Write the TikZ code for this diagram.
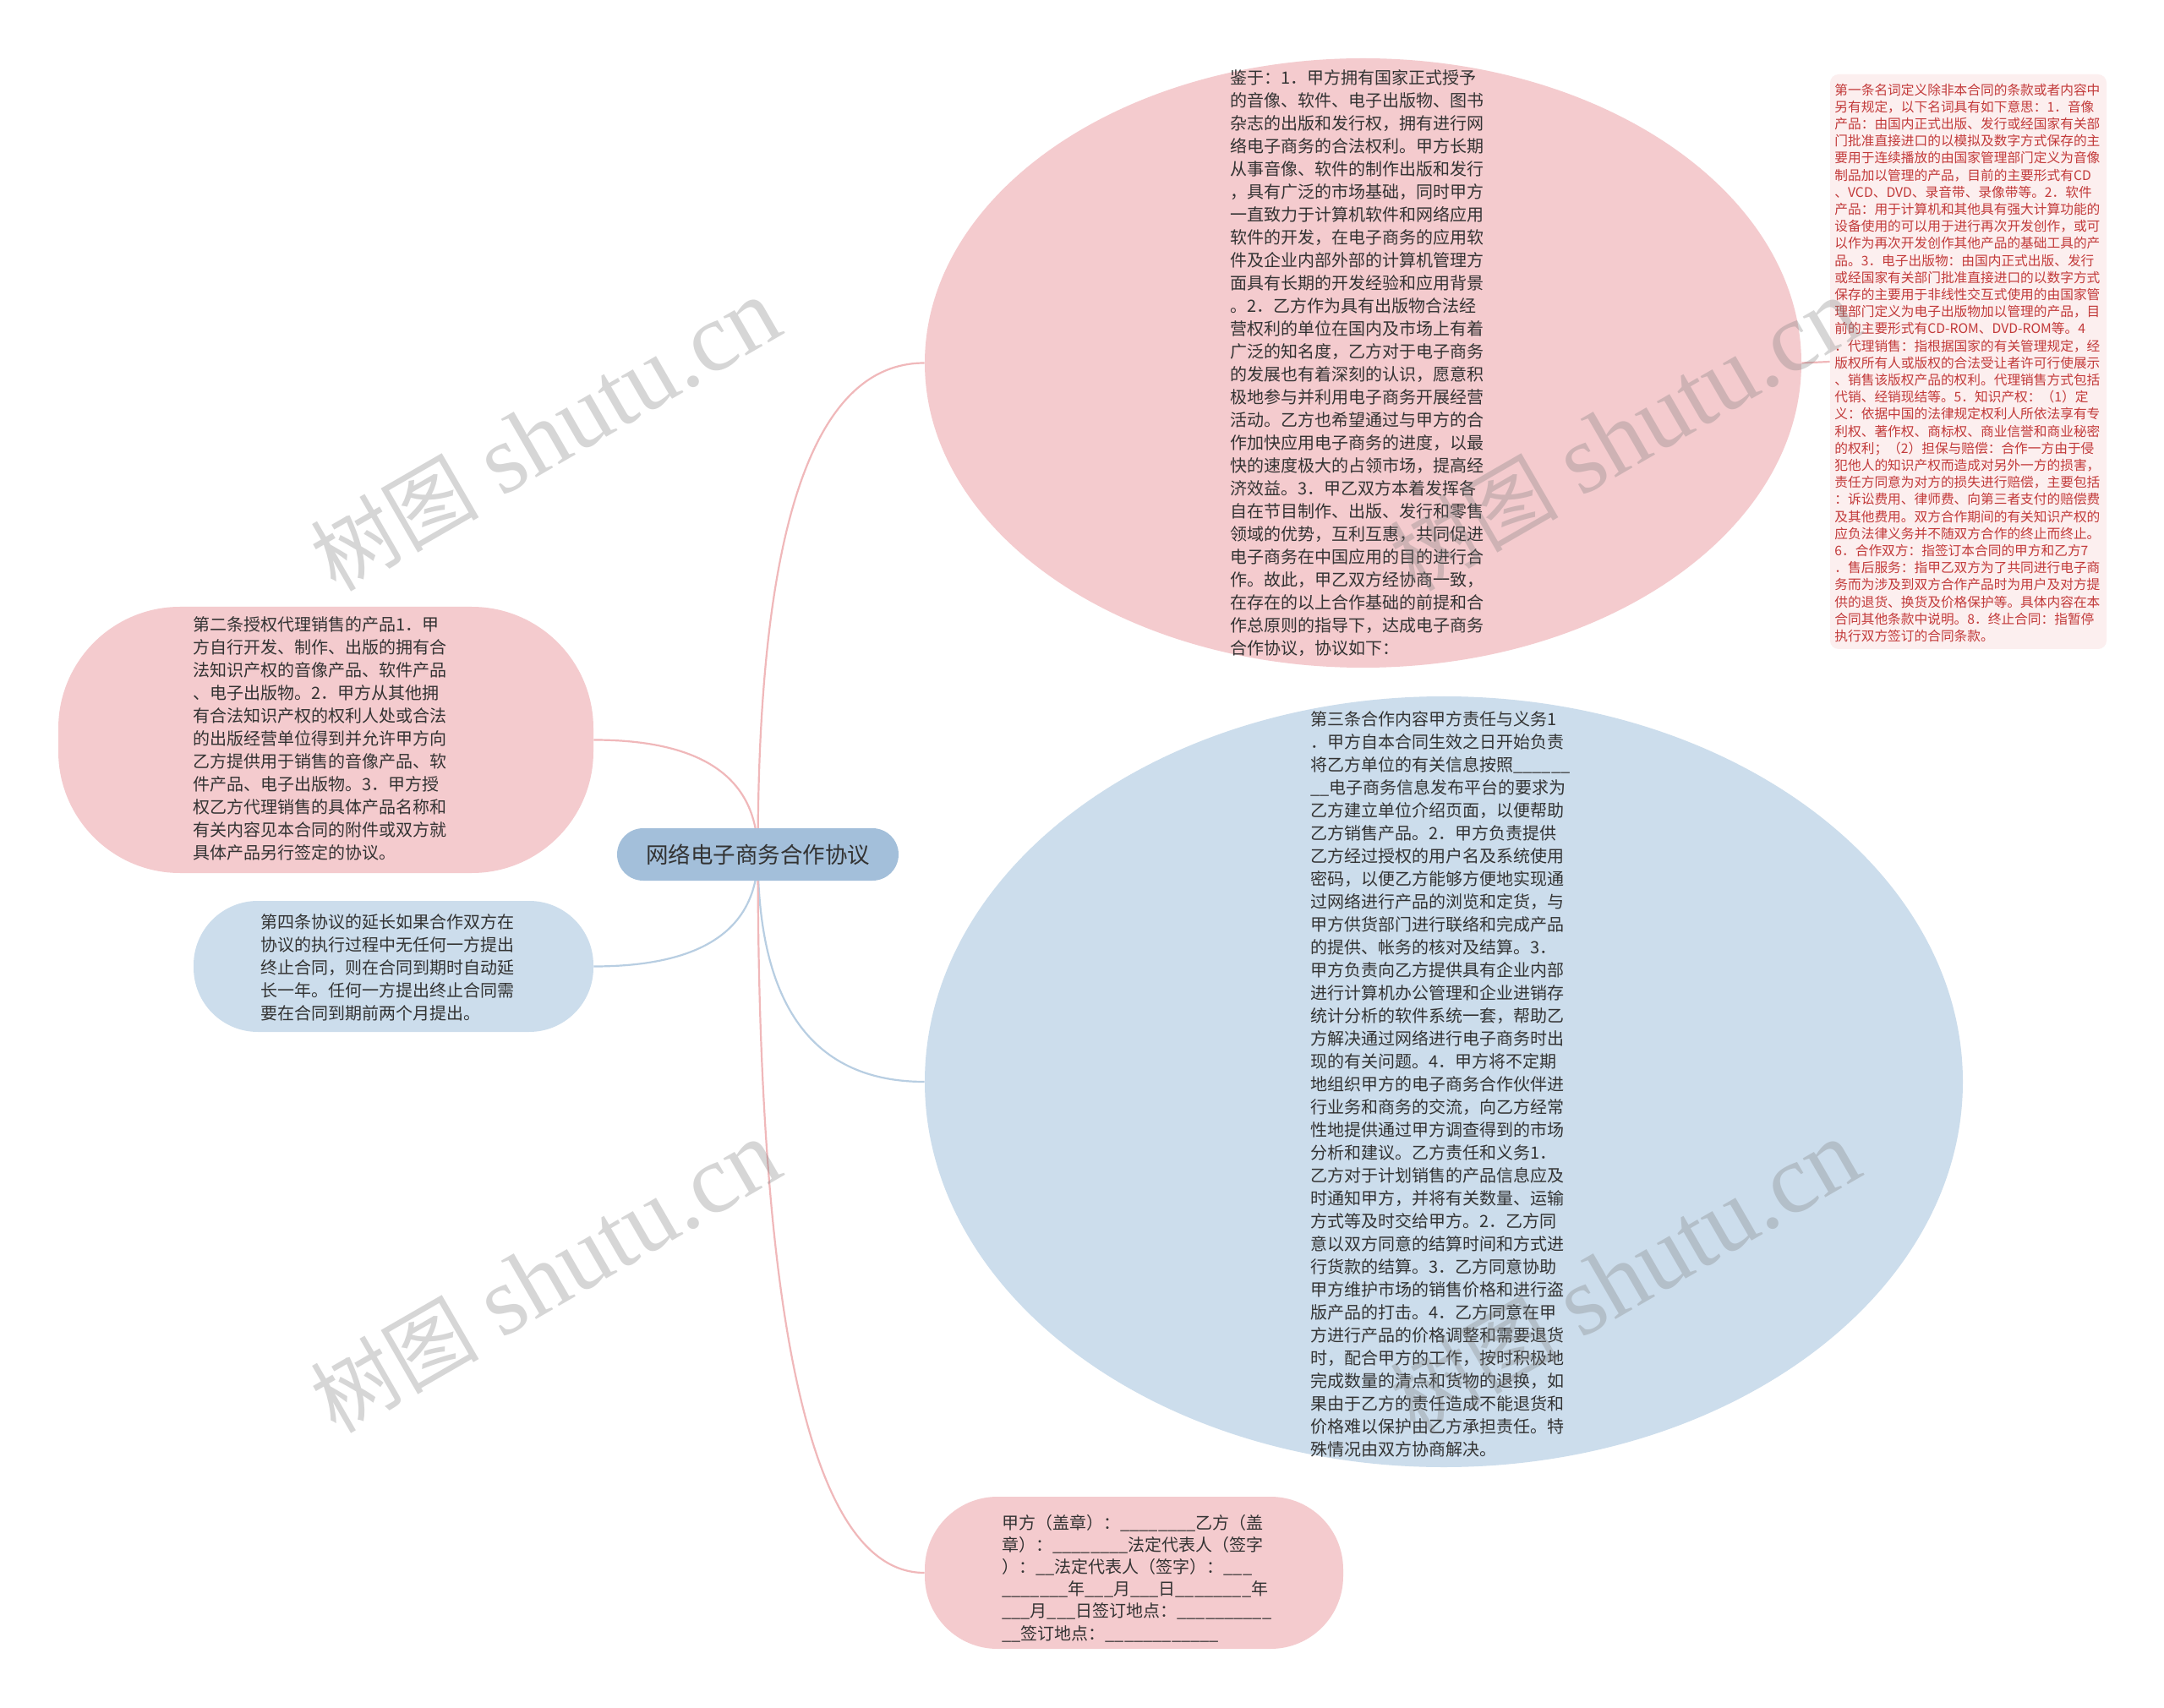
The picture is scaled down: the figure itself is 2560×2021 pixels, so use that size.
\documentclass[tikz,border=0pt]{standalone}
\usepackage{fontspec}
\setmainfont{Noto Sans CJK SC}
\newfontfamily\wmserif{Liberation Serif}
\usetikzlibrary{shapes.geometric,backgrounds,calc}
\definecolor{pinkfill}{HTML}{F4CBCE}
\definecolor{bluefill}{HTML}{CCDDEC}
\definecolor{rootfill}{HTML}{A3BFDA}
\definecolor{boxfill}{HTML}{FCEFEF}
\definecolor{boxtext}{HTML}{C23A3A}
\definecolor{pinkline}{HTML}{F0B8BA}
\definecolor{blueline}{HTML}{B8CEE2}
\definecolor{darktext}{HTML}{333333}
\tikzset{
  bodytext/.style={font=\fontsize{10pt}{13.5pt}\selectfont, align=left, text=darktext, inner sep=0pt, anchor=west},
  smalltext/.style={font=\fontsize{7.85pt}{10.1pt}\selectfont, align=left, text=boxtext, inner sep=0pt, anchor=west},
  ellpink/.style={ellipse, fill=pinkfill, draw=none, inner sep=0pt},
  ellblue/.style={ellipse, fill=bluefill, draw=none, inner sep=0pt},
  pillpink/.style={rectangle, fill=pinkfill, draw=none, inner sep=0pt},
  pillblue/.style={rectangle, fill=bluefill, draw=none, inner sep=0pt},
  pinkconn/.style={draw=pinkline, line width=1.1pt},
  blueconn/.style={draw=blueline, line width=1.1pt},
  watermark/.style={font=\fontsize{58pt}{60pt}\selectfont, text=black!50, text opacity=0.32, rotate=30, inner sep=0pt}
}
\newcommand\quadlink[4]{% style, from, corner, to
  \draw[#1] (#2) .. controls ($(#2)!0.667!(#3)$) and ($(#4)!0.667!(#3)$) .. (#4);}
\newcommand\wmtext{{\fontsize{50pt}{60pt}\selectfont 树图} {\wmserif shutu.cn}}
\begin{document}
\begin{tikzpicture}[x=0.5pt,y=-0.5pt]
\useasboundingbox (0,0) rectangle (2560,2021);

% shapes
\node[ellpink, minimum width=518.5pt, minimum height=360.5pt] (top) at (1612.5,429.5) {};
\node[ellblue, minimum width=614pt, minimum height=456pt] (big) at (1708,1280) {};
\node[pillpink, rounded corners=72pt, minimum width=316.5pt, minimum height=157.5pt] (lp) at (385.5,875.5) {};
\node[pillblue, rounded corners=38pt, minimum width=236.5pt, minimum height=77.5pt] (lb) at (465.5,1143.5) {};
\node[pillpink, rounded corners=43pt, minimum width=247.5pt, minimum height=90pt] (bp) at (1341.5,1861) {};
\node[rectangle, rounded corners=5pt, fill=boxfill, minimum width=163.5pt, minimum height=340pt, inner sep=0pt] (rb) at (2328.5,428) {};
\node[rectangle, rounded corners=15.5pt, fill=rootfill, minimum width=166.5pt, minimum height=31pt, inner sep=0pt,
      font=\fontsize{13.25pt}{15pt}\selectfont, text=darktext] (root) at (896.5,1011) {网络电子商务合作协议};

% connectors
\coordinate (ctop) at (root.center |- top.west);
\coordinate (cbig) at (root.center |- big.west);
\coordinate (cbp) at (root.center |- bp.west);
\coordinate (clp) at (root.center |- lp.east);
\coordinate (clb) at (root.center |- lb.east);
\begin{scope}[on background layer]
\fill[white] (0,0) rectangle (2560,2021);
\quadlink{pinkconn}{root.center}{ctop}{top.west}
\quadlink{blueconn}{root.center}{cbig}{big.west}
\quadlink{pinkconn}{root.center}{cbp}{bp.west}
\quadlink{pinkconn}{root.center}{clp}{lp.east}
\quadlink{blueconn}{root.center}{clb}{lb.east}
\draw[pinkconn] (top.east) -- (rb.west);
\end{scope}

% texts
\node[bodytext] (topT) at (1455,429.5) {鉴于：1．甲方拥有国家正式授予\\
的音像、软件、电子出版物、图书\\
杂志的出版和发行权，拥有进行网\\
络电子商务的合法权利。甲方长期\\
从事音像、软件的制作出版和发行\\
，具有广泛的市场基础，同时甲方\\
一直致力于计算机软件和网络应用\\
软件的开发，在电子商务的应用软\\
件及企业内部外部的计算机管理方\\
面具有长期的开发经验和应用背景\\
。2．乙方作为具有出版物合法经\\
营权利的单位在国内及市场上有着\\
广泛的知名度，乙方对于电子商务\\
的发展也有着深刻的认识，愿意积\\
极地参与并利用电子商务开展经营\\
活动。乙方也希望通过与甲方的合\\
作加快应用电子商务的进度，以最\\
快的速度极大的占领市场，提高经\\
济效益。3．甲乙双方本着发挥各\\
自在节目制作、出版、发行和零售\\
领域的优势，互利互惠，共同促进\\
电子商务在中国应用的目的进行合\\
作。故此，甲乙双方经协商一致，\\
在存在的以上合作基础的前提和合\\
作总原则的指导下，达成电子商务\\
合作协议，协议如下：};

\node[smalltext] (rbT) at (2170,429.4) {第一条名词定义除非本合同的条款或者内容中\\
另有规定，以下名词具有如下意思：1．音像\\
产品：由国内正式出版、发行或经国家有关部\\
门批准直接进口的以模拟及数字方式保存的主\\
要用于连续播放的由国家管理部门定义为音像\\
制品加以管理的产品，目前的主要形式有CD\\
、VCD、DVD、录音带、录像带等。2．软件\\
产品：用于计算机和其他具有强大计算功能的\\
设备使用的可以用于进行再次开发创作，或可\\
以作为再次开发创作其他产品的基础工具的产\\
品。3．电子出版物：由国内正式出版、发行\\
或经国家有关部门批准直接进口的以数字方式\\
保存的主要用于非线性交互式使用的由国家管\\
理部门定义为电子出版物加以管理的产品，目\\
前的主要形式有CD-ROM、DVD-ROM等。4\\
．代理销售：指根据国家的有关管理规定，经\\
版权所有人或版权的合法受让者许可行使展示\\
、销售该版权产品的权利。代理销售方式包括\\
代销、经销现结等。5．知识产权：（1）定\\
义：依据中国的法律规定权利人所依法享有专\\
利权、著作权、商标权、商业信誉和商业秘密\\
的权利；（2）担保与赔偿：合作一方由于侵\\
犯他人的知识产权而造成对另外一方的损害，\\
责任方同意为对方的损失进行赔偿，主要包括\\
：诉讼费用、律师费、向第三者支付的赔偿费\\
及其他费用。双方合作期间的有关知识产权的\\
应负法律义务并不随双方合作的终止而终止。\\
6．合作双方：指签订本合同的甲方和乙方7\\
．售后服务：指甲乙双方为了共同进行电子商\\
务而为涉及到双方合作产品时为用户及对方提\\
供的退货、换货及价格保护等。具体内容在本\\
合同其他条款中说明。8．终止合同：指暂停\\
执行双方签订的合同条款。};

\node[bodytext] (lpT) at (228,874) {第二条授权代理销售的产品1．甲\\
方自行开发、制作、出版的拥有合\\
法知识产权的音像产品、软件产品\\
、电子出版物。2．甲方从其他拥\\
有合法知识产权的权利人处或合法\\
的出版经营单位得到并允许甲方向\\
乙方提供用于销售的音像产品、软\\
件产品、电子出版物。3．甲方授\\
权乙方代理销售的具体产品名称和\\
有关内容见本合同的附件或双方就\\
具体产品另行签定的协议。};

\node[bodytext] (lbT) at (308,1145) {第四条协议的延长如果合作双方在\\
协议的执行过程中无任何一方提出\\
终止合同，则在合同到期时自动延\\
长一年。任何一方提出终止合同需\\
要在合同到期前两个月提出。};

\node[bodytext] (bigT) at (1550,1282.5) {第三条合作内容甲方责任与义务1\\
．甲方自本合同生效之日开始负责\\
将乙方单位的有关信息按照\_\_\_\_\_\_\\
\_\_电子商务信息发布平台的要求为\\
乙方建立单位介绍页面，以便帮助\\
乙方销售产品。2．甲方负责提供\\
乙方经过授权的用户名及系统使用\\
密码，以便乙方能够方便地实现通\\
过网络进行产品的浏览和定货，与\\
甲方供货部门进行联络和完成产品\\
的提供、帐务的核对及结算。3．\\
甲方负责向乙方提供具有企业内部\\
进行计算机办公管理和企业进销存\\
统计分析的软件系统一套，帮助乙\\
方解决通过网络进行电子商务时出\\
现的有关问题。4．甲方将不定期\\
地组织甲方的电子商务合作伙伴进\\
行业务和商务的交流，向乙方经常\\
性地提供通过甲方调查得到的市场\\
分析和建议。乙方责任和义务1．\\
乙方对于计划销售的产品信息应及\\
时通知甲方，并将有关数量、运输\\
方式等及时交给甲方。2．乙方同\\
意以双方同意的结算时间和方式进\\
行货款的结算。3．乙方同意协助\\
甲方维护市场的销售价格和进行盗\\
版产品的打击。4．乙方同意在甲\\
方进行产品的价格调整和需要退货\\
时，配合甲方的工作，按时积极地\\
完成数量的清点和货物的退换，如\\
果由于乙方的责任造成不能退货和\\
价格难以保护由乙方承担责任。特\\
殊情况由双方协商解决。};

\node[bodytext, font=\fontsize{10pt}{13.1pt}\selectfont] (bpT) at (1185,1867.5) {甲方（盖章）：\_\_\_\_\_\_\_\_乙方（盖\\
章）：\_\_\_\_\_\_\_\_法定代表人（签字\\
）：\_\_法定代表人（签字）：\_\_\_\\
\_\_\_\_\_\_\_年\_\_\_月\_\_\_日\_\_\_\_\_\_\_\_年\\
\_\_\_月\_\_\_日签订地点：\_\_\_\_\_\_\_\_\_\_\\
\_\_签订地点：\_\_\_\_\_\_\_\_\_\_\_\_};

% watermarks
\node[watermark] (wm1) at (645,515) {\wmtext};
\node[watermark] (wm2) at (645,1511) {\wmtext};
\node[watermark] (wm3) at (1922,515) {\wmtext};
\node[watermark] (wm4) at (1922,1511) {\wmtext};
\end{tikzpicture}
\end{document}
